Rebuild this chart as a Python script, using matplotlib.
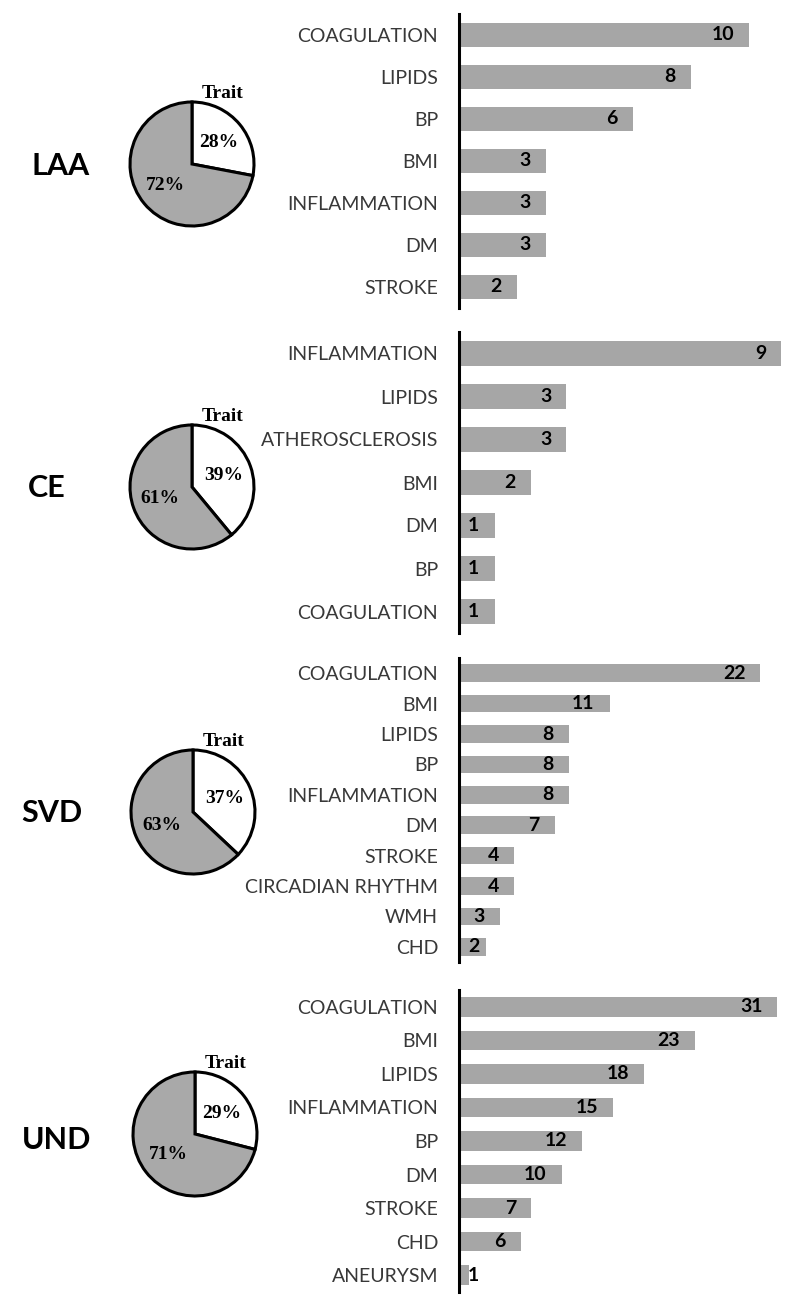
import matplotlib
matplotlib.use("Agg")
import matplotlib.pyplot as plt

# ---------------- data ----------------
subtypes = ["LAA", "CE", "SVD", "UND"]
trait_pct = [28, 39, 37, 29]
other_pct = [72, 61, 63, 71]

laa_cats = ["COAGULATION", "LIPIDS", "BP", "BMI", "INFLAMMATION", "DM", "STROKE"]
laa_vals = [10, 8, 6, 3, 3, 3, 2]
ce_cats = ["INFLAMMATION", "LIPIDS", "ATHEROSCLEROSIS", "BMI", "DM", "BP", "COAGULATION"]
ce_vals = [9, 3, 3, 2, 1, 1, 1]
svd_cats = ["COAGULATION", "BMI", "LIPIDS", "BP", "INFLAMMATION", "DM", "STROKE",
            "CIRCADIAN RHYTHM", "WMH", "CHD"]
svd_vals = [22, 11, 8, 8, 8, 7, 4, 4, 3, 2]
und_cats = ["COAGULATION", "BMI", "LIPIDS", "INFLAMMATION", "BP", "DM", "STROKE",
            "CHD", "ANEURYSM"]
und_vals = [31, 23, 18, 15, 12, 10, 7, 6, 1]

all_cats = [laa_cats, ce_cats, svd_cats, und_cats]
all_vals = [laa_vals, ce_vals, svd_vals, und_vals]

# ---------------- layout (pixels) ----------------
W, H = 800, 1307
fig = plt.figure(figsize=(W / 100, H / 100), dpi=100)
fig.patch.set_facecolor("white")

bar_boxes = [(14, 308), (332, 633), (658, 962), (990, 1292)]  # top, bottom
spine_x = 459
x_max = [11.76, 9.52, 24.9, 33.2]
pie_centers = [(192, 164), (192, 487), (193, 812), (195, 1134)]
pie_r = 62
name_pos = [(61, 166), (47, 488), (52, 813), (57, 1140)]

BAR_GRAY = "#a6a6a6"
PIE_GRAY = "#a9a9a9"
TXT = "#383838"
SANS = "Lato"
SERIF = "Liberation Serif"


def px_axes(x0, top, w, h):
    return fig.add_axes([x0 / W, 1 - (top + h) / H, w / W, h / H])


for k in range(4):
    cats, vals = all_cats[k], all_vals[k]
    top, bot = bar_boxes[k]
    ax = px_axes(spine_x, top, W - spine_x, bot - top)
    n = len(cats)
    ypos = list(range(n))
    ax.barh(ypos, vals, height=0.58, color=BAR_GRAY, zorder=1)
    ax.set_xlim(0, x_max[k])
    ax.set_ylim(n - 0.5, -0.5)
    ax.set_yticks(ypos)
    ax.set_yticklabels(cats, fontsize=14, color=TXT, family=SANS)
    ax.tick_params(axis="y", length=0, pad=15)
    ax.set_xticks([])
    for s in ["top", "right", "bottom"]:
        ax.spines[s].set_visible(False)
    ax.spines["left"].set_linewidth(2.2)
    ax.spines["left"].set_color("black")
    ax.spines["left"].set_zorder(3)
    ax.patch.set_alpha(0)
    scale = (W - spine_x) / x_max[k]
    for i, v in enumerate(vals):
        L = v * scale
        if L - 15 >= 26:
            ax.annotate(str(v), (v, i), xytext=(-15, 0), textcoords="offset pixels",
                        ha="right", va="center", fontsize=14, fontweight="bold",
                        family=SANS, color="black")
        else:
            ax.annotate(str(v), (0, i), xytext=(9, 0), textcoords="offset pixels",
                        ha="left", va="center", fontsize=14, fontweight="bold",
                        family=SANS, color="black")

    # pie
    cx, cy = pie_centers[k]
    pad = 80
    pax = px_axes(cx - pad, cy - pad, 2 * pad, 2 * pad)
    lim = pad / pie_r
    wedges, texts, autotexts = pax.pie(
        [trait_pct[k], other_pct[k]], colors=["white", PIE_GRAY], startangle=90,
        counterclock=False, radius=1.0, autopct="%d%%", pctdistance=0.55,
        wedgeprops=dict(edgecolor="black", linewidth=2.2),
        textprops=dict(family=SERIF, fontweight="bold", fontsize=14, color="black"))
    pax.set_xlim(-lim, lim)
    pax.set_ylim(-lim, lim)
    pax.set_aspect("equal")
    pax.axis("off")
    pax.text(0.5, 1.06, "Trait", ha="center", va="baseline", family=SERIF,
             fontweight="bold", fontsize=14, color="black")

    nx, ny = name_pos[k]
    fig.text(nx / W, 1 - ny / H, subtypes[k], ha="center", va="center",
             family=SANS, fontweight="bold", fontsize=22, color="black")

fig.savefig("out.png", dpi=100, facecolor="white")
